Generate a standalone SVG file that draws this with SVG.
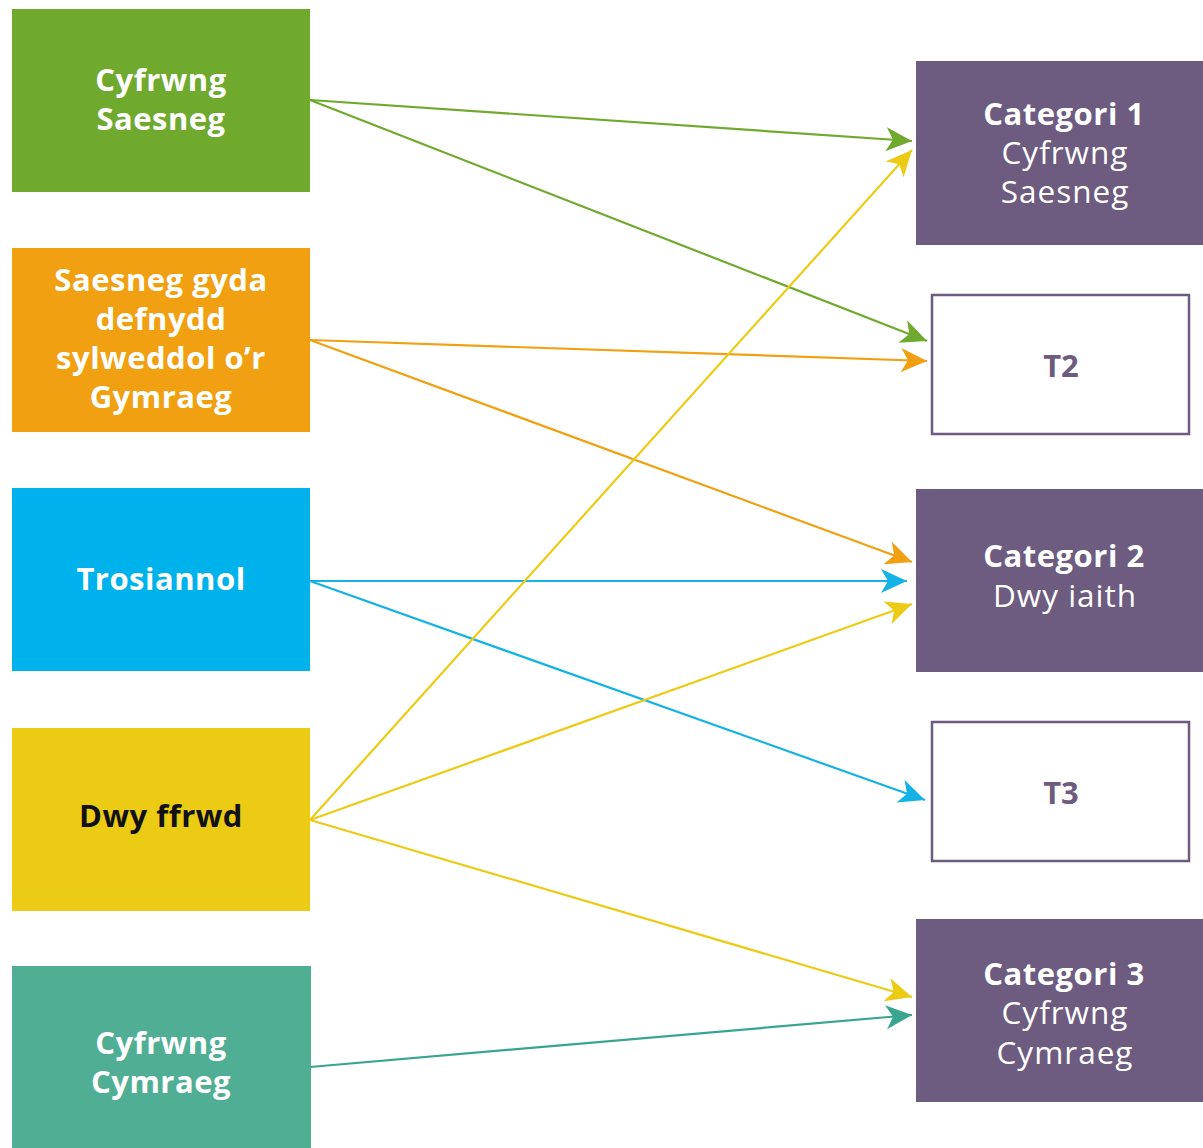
<svg xmlns="http://www.w3.org/2000/svg" width="1203" height="1148" viewBox="0 0 1203 1148">
<style>
.lt{font-family:"Open Sans","Liberation Sans",sans-serif;font-size:31px;letter-spacing:0.5px;font-weight:700;fill:#fff;text-anchor:middle}
.rt{font-family:"Open Sans","Liberation Sans",sans-serif;font-size:31.5px;letter-spacing:1px;fill:#fff;text-anchor:middle}
.b{font-weight:700;font-size:31px;letter-spacing:0.5px}
.c{fill:none;stroke-width:2.2}
.cat{fill:#6d5b80}
.t{fill:#fff;stroke:#6d5b80;stroke-width:2.5}
.tt{font-family:"Open Sans","Liberation Sans",sans-serif;font-size:31px;font-weight:700;fill:#6d5b80;text-anchor:middle}
</style>
<defs>
<marker id="mg" markerUnits="userSpaceOnUse" markerWidth="28" markerHeight="24" refX="26" refY="12" orient="auto"><path d="M0,0 L26,12 L0,24 L7,12 z" fill="#6fa92e"/></marker>
<marker id="mo" markerUnits="userSpaceOnUse" markerWidth="28" markerHeight="24" refX="26" refY="12" orient="auto"><path d="M0,0 L26,12 L0,24 L7,12 z" fill="#f0a010"/></marker>
<marker id="mb" markerUnits="userSpaceOnUse" markerWidth="28" markerHeight="24" refX="26" refY="12" orient="auto"><path d="M0,0 L26,12 L0,24 L7,12 z" fill="#14b2e6"/></marker>
<marker id="my" markerUnits="userSpaceOnUse" markerWidth="28" markerHeight="24" refX="26" refY="12" orient="auto"><path d="M0,0 L26,12 L0,24 L7,12 z" fill="#eccb14"/></marker>
<marker id="mt" markerUnits="userSpaceOnUse" markerWidth="28" markerHeight="24" refX="26" refY="12" orient="auto"><path d="M0,0 L26,12 L0,24 L7,12 z" fill="#3aa58f"/></marker>
</defs>
<rect width="1203" height="1148" fill="#fff"/>
<g id="n-cyfrwng-saesneg"><rect x="12" y="9" width="298" height="183" fill="#6fa92e"/><text class="lt" x="161" y="91">Cyfrwng</text><text class="lt" x="161" y="130">Saesneg</text></g>
<g id="n-saesneg-gyda"><rect x="12" y="248" width="298" height="184" fill="#f0a010"/><text class="lt" x="161" y="291">Saesneg gyda</text><text class="lt" x="161" y="330">defnydd</text><text class="lt" x="161" y="369">sylweddol o’r</text><text class="lt" x="161" y="408">Gymraeg</text></g>
<g id="n-trosiannol"><rect x="12" y="488" width="298" height="183" fill="#00b2ec"/><text class="lt" x="161" y="590">Trosiannol</text></g>
<g id="n-dwy-ffrwd"><rect x="12" y="728" width="298" height="183" fill="#eccb14"/><text class="lt" x="161" y="827" style="fill:#111">Dwy ffrwd</text></g>
<g id="n-cyfrwng-cymraeg"><rect x="12" y="966" width="299" height="182" fill="#4fae94"/><text class="lt" x="161" y="1054">Cyfrwng</text><text class="lt" x="161" y="1093">Cymraeg</text></g>
<g id="n-cat1"><rect class="cat" x="916" y="61" width="287" height="184"/><text class="rt b" x="1064" y="125">Categori 1</text><text class="rt" x="1065" y="164">Cyfrwng</text><text class="rt" x="1065" y="203">Saesneg</text></g>
<g id="n-t2"><rect class="t" x="932" y="295" width="257" height="139"/><text class="tt" x="1061" y="377">T2</text></g>
<g id="n-cat2"><rect class="cat" x="916" y="489" width="287" height="183"/><text class="rt b" x="1064" y="567">Categori 2</text><text class="rt" x="1065" y="607">Dwy iaith</text></g>
<g id="n-t3"><rect class="t" x="932" y="722" width="257" height="139"/><text class="tt" x="1061" y="804">T3</text></g>
<g id="n-cat3"><rect class="cat" x="916" y="919" width="287" height="183"/><text class="rt b" x="1064" y="985">Categori 3</text><text class="rt" x="1065" y="1024">Cyfrwng</text><text class="rt" x="1065" y="1064">Cymraeg</text></g>
<g id="connectors">
<line class="c" x1="310" y1="100" x2="912" y2="141" stroke="#6fa92e" marker-end="url(#mg)"/>
<line class="c" x1="310" y1="100" x2="927" y2="341" stroke="#6fa92e" marker-end="url(#mg)"/>
<line class="c" x1="310" y1="340" x2="927" y2="361" stroke="#f0a010" marker-end="url(#mo)"/>
<line class="c" x1="310" y1="340" x2="912" y2="562" stroke="#f0a010" marker-end="url(#mo)"/>
<line class="c" x1="310" y1="581" x2="907" y2="581" stroke="#14b2e6" marker-end="url(#mb)"/>
<line class="c" x1="310" y1="581" x2="925" y2="800" stroke="#14b2e6" marker-end="url(#mb)"/>
<line class="c" x1="310" y1="820" x2="912" y2="150" stroke="#eccb14" marker-end="url(#my)"/>
<line class="c" x1="310" y1="820" x2="912" y2="604" stroke="#eccb14" marker-end="url(#my)"/>
<line class="c" x1="310" y1="820" x2="912" y2="997" stroke="#eccb14" marker-end="url(#my)"/>
<line class="c" x1="310" y1="1067" x2="912" y2="1015" stroke="#3aa58f" marker-end="url(#mt)"/>
</g>
</svg>
